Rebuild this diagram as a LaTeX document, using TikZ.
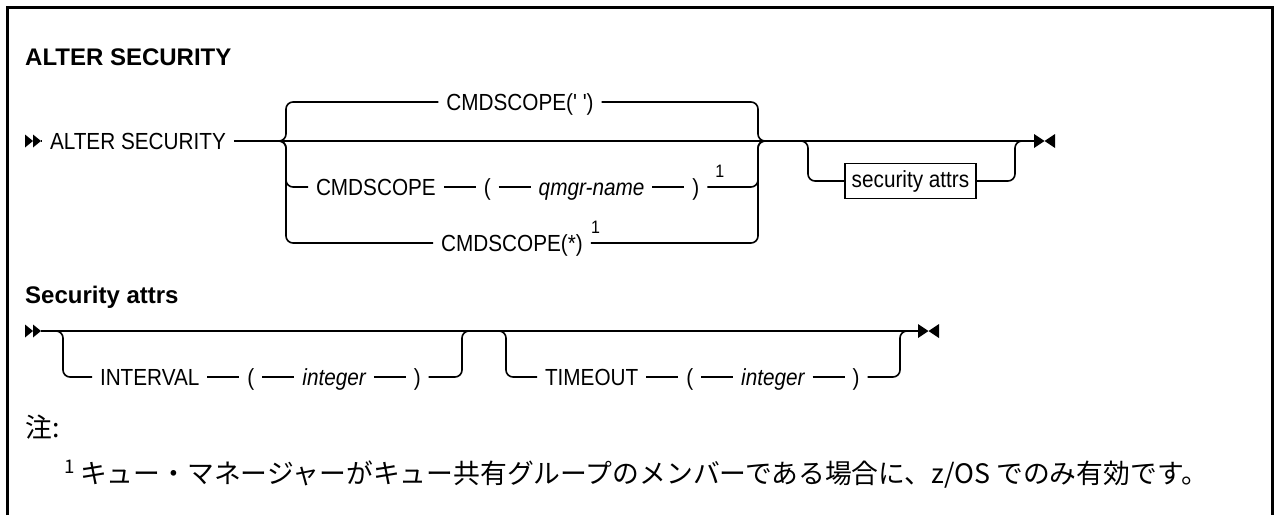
\documentclass[tikz,border=0pt]{standalone}
\usepackage{fontspec}
\setmainfont{Liberation Sans}
\newfontfamily\railfont[FakeStretch=0.89, Ligatures=TeXOff]{Liberation Sans}
\newfontfamily\headfont{Liberation Sans}
\newfontfamily\jpfont{Noto Sans CJK JP}
\usetikzlibrary{positioning}

\newcommand{\kwfont}{\railfont\fontsize{23.3}{27}\selectfont}
\newcommand{\hdfont}{\headfont\bfseries\fontsize{24}{28}\selectfont}

\begin{document}
\begin{tikzpicture}[
  x=1pt, y=-1pt,
  kw/.style={font=\kwfont, inner sep=0pt, outer sep=8pt, text height=16.7pt, text depth=0pt},
  var/.style={kw, font=\kwfont\itshape},
  sup/.style={font=\railfont\fontsize{18}{18}\selectfont, inner sep=0pt},
  head/.style={font=\hdfont, anchor=west, inner sep=0pt, text height=17pt, text depth=0pt},
  note/.style={font=\jpfont\fontsize{26.8}{30}\selectfont, anchor=west, inner sep=0pt, text height=20pt, text depth=0pt},
  attrbox/.style={draw, line width=1.6pt, font=\kwfont, inner xsep=7pt, minimum height=35pt},
  rail/.style={line width=1.6pt, rounded corners=7pt},
  startmark/.pic={\fill (0,-6.5) -- (8,0) -- (0,6.5) -- cycle; \fill (8,-6.5) -- (16,0) -- (8,6.5) -- cycle;},
  endmark/.pic={\fill (0,-7) -- (10.5,0) -- (0,7) -- cycle; \fill (21,-7) -- (10.5,0) -- (21,7) -- cycle;},
  node distance=32pt
]
\useasboundingbox (0,0) rectangle (1275,515);
\draw[line width=3pt] (7,515) -- (7,7) -- (1272,7) -- (1272,515);

% ALTER SECURITY
\node[head] (title) at (25,57) {ALTER SECURITY};
\pic at (25,141) {startmark};
\coordinate (s1) at (41,141);
\node[kw, anchor=west] (alter) at (42,141) {ALTER SECURITY};
\coordinate (lf) at (280,141);
\coordinate (rv) at (758,141);
\coordinate (rf) at (764,141);

\node[kw] (top) at (520,102) {CMDSCOPE(' ')};
\node[kw, anchor=west] (cmd2) at (308,187) {CMDSCOPE};
\node[kw, right=of cmd2] (lp2) {(};
\node[var, right=of lp2] (qm) {qmgr-name};
\node[kw, right=of qm] (rp2) {)};
\node[sup, anchor=south west] (fn2) at ([xshift=8pt, yshift=9pt]rp2.east) {1};
\node[kw] (cmd3) at (512,243) {CMDSCOPE(*)};
\node[sup, anchor=south west] (fn3) at ([yshift=9pt]cmd3.east) {1};

\draw[rail] (s1) -- (alter);
\draw[rail] (alter) -- (lf) -- (rf);
\draw[rail] (lf) -- ++(6,0) |- (top);
\draw[rail] (lf) -- ++(6,0) |- (cmd2);
\draw[rail] (lf) -- ++(6,0) |- (cmd3);
\draw[rail] (cmd2) -- (lp2);
\draw[rail] (lp2) -- (qm);
\draw[rail] (qm) -- (rp2);
\draw[rail] (top) -| (rv) -- (rf);
\draw[rail] (rp2) -| (rv) -- (rf);
\draw[rail] (cmd3) -| (rv) -- (rf);

% optional security attrs
\coordinate (of) at (802,141);
\coordinate (ev) at (1015,141);
\coordinate (ef) at (1021,141);
\coordinate (em) at (1034,141);
\node[attrbox] (attrs) at (910.5,181) {security attrs};
\draw[rail] (rf) -- (of) -- (ef) -- (em);
\draw[rail] (of) -- ++(6,0) |- (attrs);
\draw[rail] (attrs) -| (ev) -- (ef);
\pic at (em) {endmark};

% Security attrs
\node[head] (title2) at (25,295) {Security attrs};
\pic at (25,331) {startmark};
\coordinate (s2) at (41,331);
\coordinate (if) at (57,331);
\coordinate (iv) at (462,331);
\coordinate (ij) at (468,331);
\coordinate (tf) at (500,331);
\coordinate (tv) at (900,331);
\coordinate (tj) at (906,331);
\coordinate (em2) at (918,331);

\node[kw, anchor=west] (intv) at (92,377) {INTERVAL};
\node[kw, right=of intv] (lp3) {(};
\node[var, right=of lp3] (int1) {integer};
\node[kw, right=of int1] (rp3) {)};
\node[kw, anchor=west] (tmo) at (537,377) {TIMEOUT};
\node[kw, right=of tmo] (lp4) {(};
\node[var, right=of lp4] (int2) {integer};
\node[kw, right=of int2] (rp4) {)};

\draw[rail] (s2) -- (if) -- (ij) -- (tf) -- (tj) -- (em2);
\draw[rail] (if) -- ++(6,0) |- (intv);
\draw[rail] (intv) -- (lp3);
\draw[rail] (lp3) -- (int1);
\draw[rail] (int1) -- (rp3);
\draw[rail] (rp3) -| (iv) -- (ij);
\draw[rail] (tf) -- ++(6,0) |- (tmo);
\draw[rail] (tmo) -- (lp4);
\draw[rail] (lp4) -- (int2);
\draw[rail] (int2) -- (rp4);
\draw[rail] (rp4) -| (tv) -- (tj);
\pic at (em2) {endmark};

% notes
\node[note] (notehd) at (25,427) {注:};
\node[note] (fnote) at (64,473) {\textsuperscript{1}\hspace{5pt}キュー・マネージャーがキュー共有グループのメンバーである場合に、z/OS でのみ有効です。};
\end{tikzpicture}
\end{document}
